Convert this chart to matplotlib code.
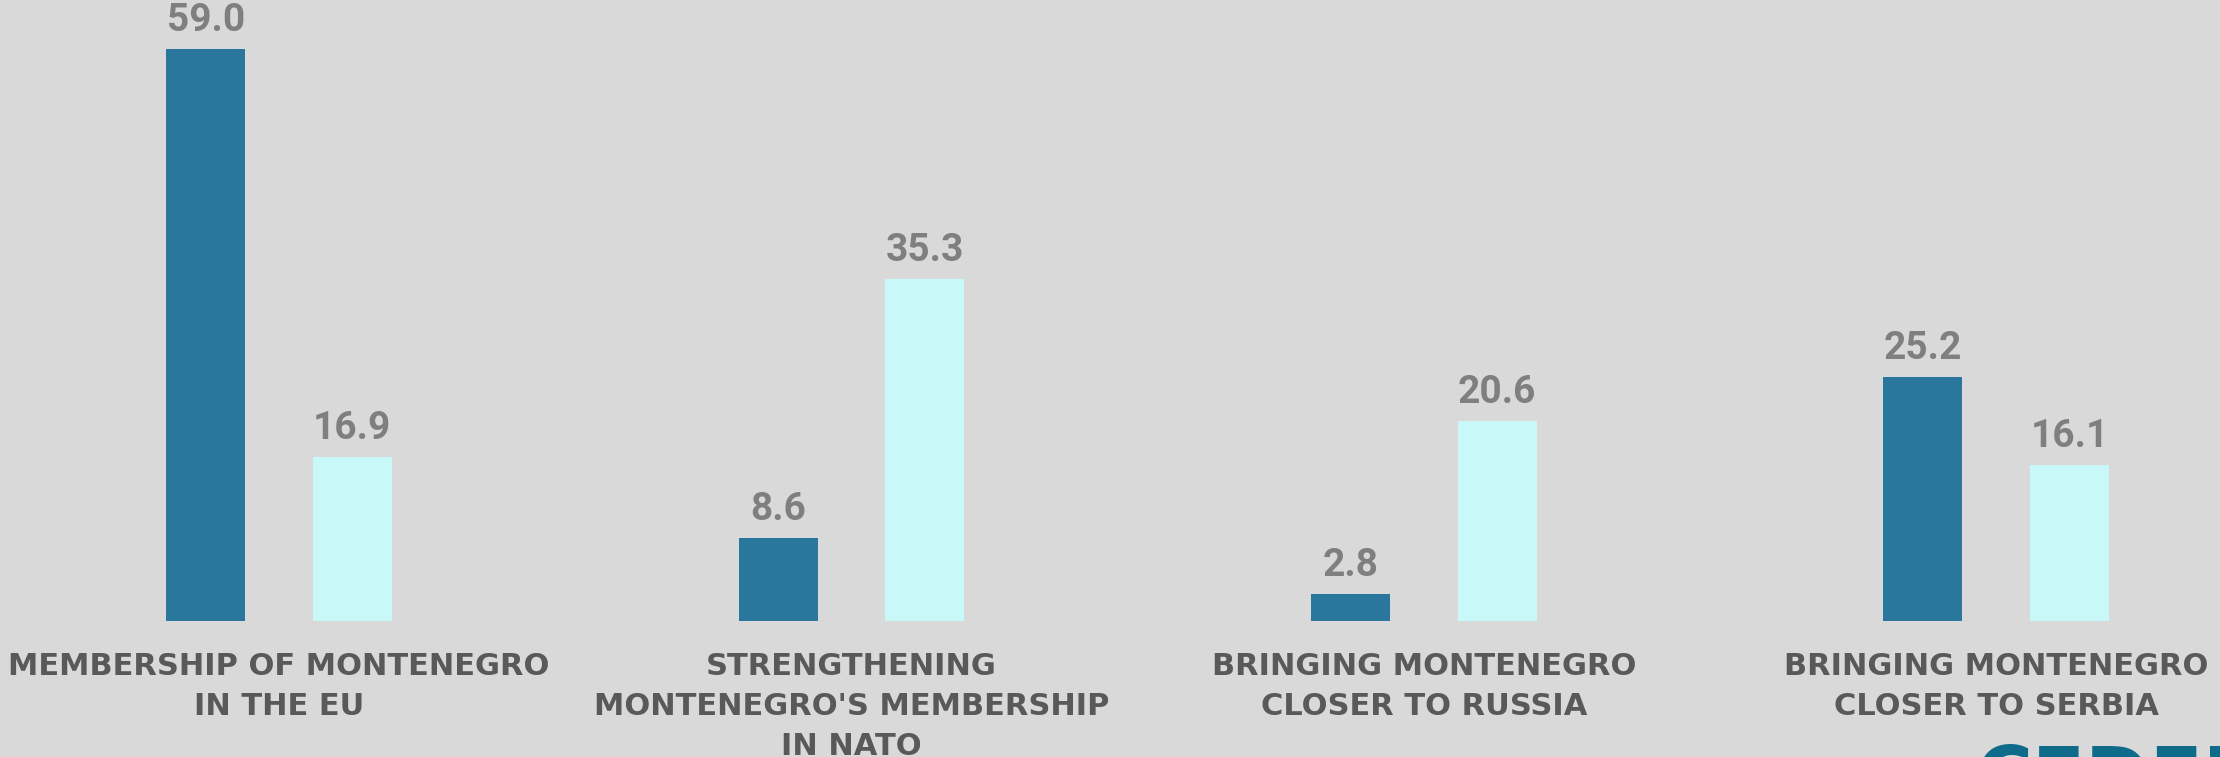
import matplotlib
matplotlib.use('Agg')
import numpy as np
import matplotlib.pyplot as plt

categories = ['MEMBERSHIP OF MONTENEGRO\nIN THE EU',
              "STRENGTHENING\nMONTENEGRO'S MEMBERSHIP\nIN NATO",
              'BRINGING MONTENEGRO\nCLOSER TO RUSSIA',
              'BRINGING MONTENEGRO\nCLOSER TO SERBIA']
series_a = [59.0, 8.6, 2.8, 25.2]
series_b = [16.9, 35.3, 20.6, 16.1]

BG = '#d9d9d9'
DARK = '#2a779e'
LIGHT = '#c8f8f8'

fig = plt.figure(figsize=(22.2, 7.57), dpi=100, facecolor=BG)
ax = fig.add_axes([0, 0, 1, 1])
ax.set_facecolor(BG)

x = np.arange(len(categories))
off = 0.128
w = 0.138
bars_a = ax.bar(x - off, series_a, width=w, color=DARK)
bars_b = ax.bar(x + off, series_b, width=w, color=LIGHT)

for bars in (bars_a, bars_b):
    for b in bars:
        ax.annotate(f'{b.get_height():.1f}', (b.get_x() + b.get_width() / 2, b.get_height()),
                    xytext=(0, 20.5), textcoords='offset points', ha='center', va='center',
                    fontsize=28, fontweight='bold', color='#7f7f7f', family='Roboto')

for xi, label in zip(x, categories):
    ax.text(xi, -3.15, label, ha='center', va='top', fontsize=22, fontweight='bold',
            color='#595959', linespacing=1.48, family='DejaVu Sans')

# cropped logo in the corner
fig.text(0.8897, 0.0185, 'CEDEM', fontsize=56, fontweight='bold', color='#0f6b8a',
         ha='left', va='top', family='DejaVu Sans')

ax.set_xlim(-0.4875, 3.391)
ax.set_ylim(-14.02, 64.02)
ax.axis('off')

plt.savefig('out.png', dpi=100, facecolor=BG)
